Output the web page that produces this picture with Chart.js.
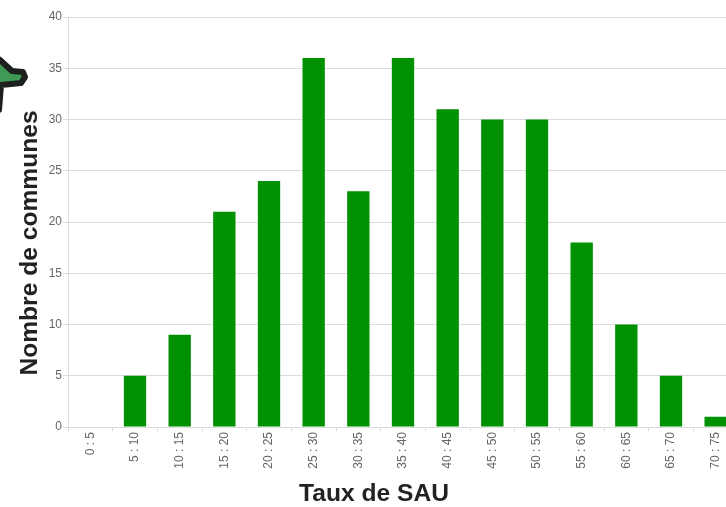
<!DOCTYPE html>
<html lang="fr">
<head>
    <title>Taux de SAU</title>
    <style>
        html, body { margin: 0; padding: 0; background: #fff; overflow: hidden; }
        #wrap { width: 726px; height: 507px; overflow: hidden; }
        canvas { display: block; filter: blur(0.7px); }
    </style>
    <script src="https://cdn.jsdelivr.net/npm/chart.js"></script>
</head>
<body>
    <div id="wrap"><canvas id="sauChart" width="770" height="507"></canvas></div>
    <script>
        const categories = ['0 : 5', '5 : 10', '10 : 15', '15 : 20', '20 : 25', '25 : 30', '30 : 35', '35 : 40',
            '40 : 45', '45 : 50', '50 : 55', '55 : 60', '60 : 65', '65 : 70', '70 : 75'];
        const communes = [0, 5, 9, 21, 24, 36, 23, 36, 31, 30, 30, 18, 10, 5, 1];
        const yTitle = 'Nombre de communes';
        const xTitle = 'Taux de SAU';

        // titles sit off the plot centre in the original, and the map blob is cut by the left edge
        const extras = {
            id: 'extras',
            afterDraw(chart) {
                const ctx = chart.ctx;
                ctx.save();
                ctx.beginPath();
                ctx.moveTo(-10, 52);
                ctx.lineTo(0, 60);
                ctx.lineTo(12, 71);
                ctx.lineTo(23, 72);
                ctx.lineTo(25, 77);
                ctx.lineTo(21, 83);
                ctx.lineTo(1, 85);
                ctx.lineTo(-1, 110);
                ctx.lineTo(-10, 115);
                ctx.closePath();
                ctx.fillStyle = '#3f9a55';
                ctx.strokeStyle = '#1c211d';
                ctx.lineWidth = 6;
                ctx.lineJoin = 'round';
                ctx.fill();
                ctx.stroke();

                ctx.fillStyle = '#222';
                ctx.font = 'bold 24.6px "Liberation Sans"';
                ctx.textAlign = 'center';
                ctx.textBaseline = 'middle';
                ctx.fillText(xTitle, 374, 494);
                ctx.translate(30, 243);
                ctx.rotate(-Math.PI / 2);
                ctx.fillText(yTitle, 0, 0);
                ctx.restore();
            }
        };

        new Chart(document.getElementById('sauChart').getContext('2d'), {
            type: 'bar',
            data: {
                labels: categories,
                datasets: [{
                    data: communes,
                    backgroundColor: '#009100',
                    borderWidth: 0,
                    categoryPercentage: 0.5,
                    barPercentage: 1
                }]
            },
            options: {
                responsive: false,
                animation: false,
                layout: { padding: { top: 17, right: 32, bottom: 0, left: 0 } },
                plugins: { legend: { display: false }, tooltip: { enabled: false } },
                scales: {
                    x: {
                        afterFit(scale) { scale.height = 80; },
                        grid: { color: '#dcdcdc', drawOnChartArea: false, offset: true, tickLength: 4 },
                        border: { color: '#dcdcdc' },
                        ticks: { color: '#666', font: { size: 12, family: 'Liberation Sans' }, maxRotation: 90, minRotation: 90, padding: 1 }
                    },
                    y: {
                        min: 0,
                        max: 40,
                        afterFit(scale) { scale.width = 68; },
                        grid: { color: '#dcdcdc', tickLength: 5 },
                        border: { color: '#dcdcdc' },
                        ticks: { stepSize: 5, color: '#666', font: { size: 12, family: 'Liberation Sans' }, padding: 1 }
                    }
                }
            },
            plugins: [extras]
        });
    </script>
</body>
</html>
